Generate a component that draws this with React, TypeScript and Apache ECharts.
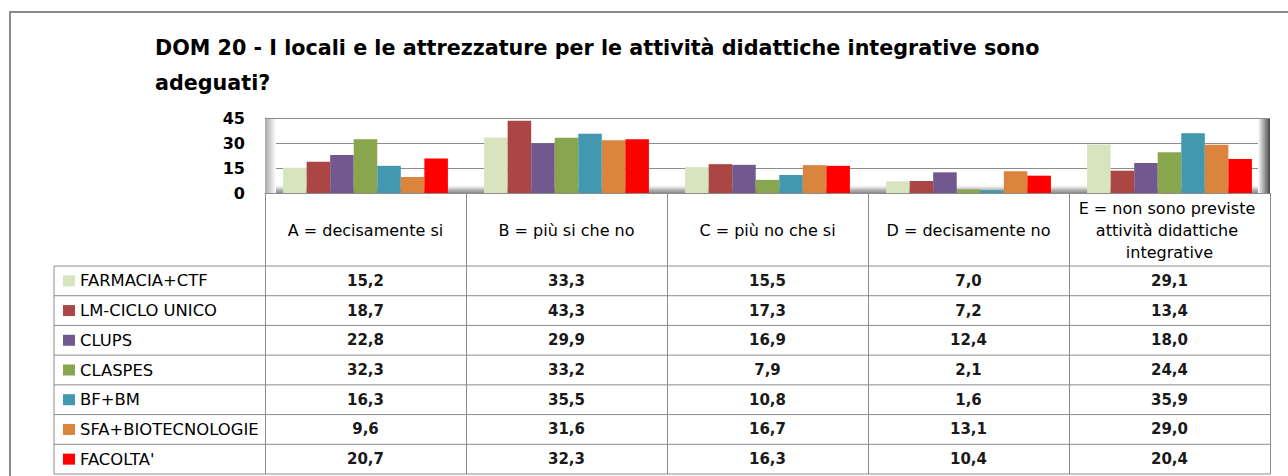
import React, { useEffect, useRef } from "react";
import * as echarts from "echarts";

// ---------- data ----------
const TITLE =
  "DOM 20 - I locali e le attrezzature per le attività didattiche integrative sono\nadeguati?";
const categories = [
  "A = decisamente si",
  "B = più si che no",
  "C = più no che si",
  "D = decisamente no",
  "E = non sono previste attività didattiche integrative",
];
const seriesNames = [
  "FARMACIA+CTF",
  "LM-CICLO UNICO",
  "CLUPS",
  "CLASPES",
  "BF+BM",
  "SFA+BIOTECNOLOGIE",
  "FACOLTA'",
];
const farmaciaCtf = [15.2, 33.3, 15.5, 7.0, 29.1];
const lmCicloUnico = [18.7, 43.3, 17.3, 7.2, 13.4];
const clups = [22.8, 29.9, 16.9, 12.4, 18.0];
const claspes = [32.3, 33.2, 7.9, 2.1, 24.4];
const bfBm = [16.3, 35.5, 10.8, 1.6, 35.9];
const sfaBiotecnologie = [9.6, 31.6, 16.7, 13.1, 29.0];
const facolta = [20.7, 32.3, 16.3, 10.4, 20.4];
const seriesValues = [farmaciaCtf, lmCicloUnico, clups, claspes, bfBm, sfaBiotecnologie, facolta];
const yMin = 0;
const yMax = 45;
const yInterval = 15;

// ---------- styles ----------
const colors = ["#d7e4bd", "#aa4643", "#71588f", "#89a54e", "#4198af", "#db843d", "#ff0000"];
const FONT = "'DejaVu Sans', sans-serif";
const LINE = "#8c8c8c";
const W = 1288;
const H = 476;
const GRID_LEFT = 265;
const GRID_RIGHT_X = 1270;
const GRID_TOP = 118;
const AXIS_Y = 193;
const TABLE_LEFT = 54;
const TABLE_TOP = 266;
const TABLE_BOTTOM = 474;
const ROW_H = (TABLE_BOTTOM - TABLE_TOP) / seriesNames.length;

const fmt = (v: number) => v.toFixed(1).replace(".", ",");

export default function App() {
  const ref = useRef<HTMLDivElement>(null);

  useEffect(() => {
    document.body.style.margin = "0";
    if (!ref.current) return;
    const chart = echarts.init(ref.current, undefined, { renderer: "svg" });

    chart.setOption({
      animation: false,
      backgroundColor: "#ffffff",
      title: {
        text: TITLE,
        left: 155,
        top: 30,
        padding: 0,
        textStyle: {
          fontFamily: FONT,
          fontWeight: "bold",
          fontSize: 20.7,
          color: "#000",
          lineHeight: 35,
        },
      },
      legend: {
        data: seriesNames,
        orient: "vertical",
        left: 63,
        top: TABLE_TOP,
        padding: 0,
        itemGap: 0,
        itemWidth: 12,
        itemHeight: 11,
        icon: "rect",
        selectedMode: false,
        textStyle: { fontFamily: FONT, fontSize: 16.4, color: "#000", lineHeight: ROW_H },
      },
      grid: {
        left: GRID_LEFT,
        right: W - GRID_RIGHT_X,
        top: GRID_TOP,
        bottom: H - AXIS_Y,
        containLabel: false,
      },
      xAxis: {
        type: "category",
        data: categories,
        axisLine: { show: true, lineStyle: { color: LINE, width: 1 } },
        axisTick: {
          show: true,
          interval: 0,
          length: TABLE_BOTTOM - AXIS_Y,
          lineStyle: { color: LINE, width: 1 },
        },
        axisLabel: {
          interval: 0,
          margin: 37,
          verticalAlign: "middle",
          width: 190,
          overflow: "break",
          lineHeight: 22,
          fontFamily: FONT,
          fontSize: 16,
          color: "#000",
        },
      },
      yAxis: {
        type: "value",
        min: yMin,
        max: yMax,
        interval: yInterval,
        axisLine: { show: true, lineStyle: { color: LINE } },
        axisTick: { show: false },
        axisLabel: {
          margin: 20,
          fontFamily: FONT,
          fontSize: 16,
          fontWeight: "bold",
          color: "#000",
        },
        splitLine: { show: true, lineStyle: { color: LINE, width: 1 } },
      },
      series: seriesNames.map((name, i) => ({
        name,
        type: "bar",
        data: seriesValues[i],
        barGap: "0%",
        barCategoryGap: "18%",
        itemStyle: { color: colors[i] },
        z: 3,
      })),
    });

    // table and 3D-style decorations, placed through the axis scale
    const colX = categories.map((_, j) => chart.convertToPixel({ xAxisIndex: 0 }, j) as number);
    const elements: any[] = [
      {
        type: "rect",
        silent: true,
        z: 0,
        shape: { x: 10, y: 12, width: W, height: H },
        style: { fill: "none", stroke: "#8a8a8a", lineWidth: 2 },
      },
      {
        type: "rect",
        silent: true,
        z: 1,
        shape: { x: GRID_LEFT, y: AXIS_Y - 9, width: GRID_RIGHT_X - GRID_LEFT, height: 9 },
        style: {
          fill: new echarts.graphic.LinearGradient(0, 0, 0, 1, [
            { offset: 0, color: "rgba(255,255,255,0)" },
            { offset: 0.55, color: "#c4c4c4" },
            { offset: 1, color: "#8a8a8a" },
          ]),
        },
      },
      {
        type: "rect",
        silent: true,
        z: 1,
        shape: { x: GRID_LEFT, y: GRID_TOP + 1, width: 11, height: AXIS_Y - GRID_TOP - 1 },
        style: {
          fill: new echarts.graphic.LinearGradient(0, 0, 1, 0, [
            { offset: 0, color: "#a8a8a8" },
            { offset: 1, color: "rgba(255,255,255,1)" },
          ]),
        },
      },
      {
        type: "rect",
        silent: true,
        z: 1,
        shape: { x: GRID_RIGHT_X - 12, y: GRID_TOP + 1, width: 12, height: AXIS_Y - GRID_TOP - 1 },
        style: {
          fill: new echarts.graphic.LinearGradient(0, 0, 1, 0, [
            { offset: 0, color: "rgba(255,255,255,1)" },
            { offset: 1, color: "#454545" },
          ]),
        },
      },
      {
        type: "line",
        silent: true,
        z: 1,
        shape: { x1: TABLE_LEFT, y1: TABLE_TOP, x2: TABLE_LEFT, y2: TABLE_BOTTOM },
        style: { stroke: LINE, lineWidth: 1 },
      },
    ];
    for (let r = 0; r <= seriesNames.length; r++) {
      const y = TABLE_TOP + r * ROW_H;
      elements.push({
        type: "line",
        silent: true,
        z: 1,
        shape: { x1: TABLE_LEFT, y1: y, x2: GRID_RIGHT_X, y2: y },
        style: { stroke: LINE, lineWidth: 1 },
      });
    }
    seriesValues.forEach((vals, i) => {
      vals.forEach((v, j) => {
        elements.push({
          type: "text",
          silent: true,
          z: 5,
          x: colX[j],
          y: TABLE_TOP + (i + 0.5) * ROW_H,
          style: {
            text: fmt(v),
            align: "center",
            verticalAlign: "middle",
            fontFamily: FONT,
            fontSize: 15,
            fontWeight: "bold",
            fill: "#1a1a1a",
          },
        });
      });
    });
    chart.setOption({ graphic: { elements } });

    return () => chart.dispose();
  }, []);

  return <div ref={ref} style={{ width: W, height: H }} />;
}
